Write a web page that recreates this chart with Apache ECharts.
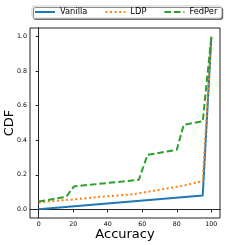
<!DOCTYPE html>
<html>
<head>
<meta charset="utf-8">
<script src="https://cdn.jsdelivr.net/npm/echarts@6/dist/echarts.min.js"></script>
<style>html,body{margin:0;padding:0;background:#fff;}#c{width:245px;height:245px;}</style>
</head>
<body>
<div id="c"></div>
<script>
const seriesNames = ['Vanilla', 'LDP', 'FedPer'];
const vanillaX = [0, 95, 100];
const vanillaY = [0.0, 0.08, 1.0];
const ldpX = [0, 10, 20, 35, 55, 74, 85, 95, 100];
const ldpY = [0.04, 0.05, 0.057, 0.072, 0.088, 0.12, 0.14, 0.163, 1.0];
const fedperX = [0, 16, 20.5, 58, 63, 80, 84, 95, 100];
const fedperY = [0.045, 0.073, 0.133, 0.171, 0.315, 0.345, 0.49, 0.51, 1.0];
const xTicks = [0, 20, 40, 60, 80, 100];
const yTicks = [0, 0.2, 0.4, 0.6, 0.8, 1.0];

const pairs = (xs, ys) => xs.map((x, i) => [x, ys[i]]);
const font = 'DejaVu Sans';
const chart = echarts.init(document.getElementById('c'), null, {renderer: 'canvas'});
chart.setOption({
  animation: false,
  textStyle: {fontFamily: font},
  grid: {left: 30, right: 25, top: 28, bottom: 27, containLabel: false, outerBoundsMode: 'none',
         show: true, borderColor: '#222', borderWidth: 1},
  legend: {
    data: seriesNames, left: 32, top: 6, orient: 'horizontal',
    itemWidth: 20, itemHeight: 10, itemGap: 17,
    padding: [2, 4, 2, 2],
    textStyle: {fontFamily: font, fontSize: 8.3, color: '#000'},
    itemStyle: {opacity: 0},
    lineStyle: {width: 2},
    backgroundColor: '#fff', borderColor: '#cccccc', borderWidth: 1, borderRadius: 2,
    shadowColor: 'rgba(0,0,0,0.45)', shadowBlur: 0, shadowOffsetX: 1.5, shadowOffsetY: 1.5
  },
  xAxis: {
    type: 'value', min: -5, max: 105,
    name: 'Accuracy', nameLocation: 'middle', nameGap: 10, nameMoveOverlap: false,
    nameTextStyle: {fontFamily: font, fontSize: 13, color: '#000'},
    axisLine: {show: true, lineStyle: {color: '#222', width: 1}},
    axisTick: {show: true, inside: false, length: 3, customValues: xTicks, lineStyle: {color: '#222'}},
    axisLabel: {customValues: xTicks, fontSize: 6.3, color: '#000', margin: 3, fontFamily: font},
    splitLine: {show: false}
  },
  yAxis: {
    type: 'value', min: -0.05, max: 1.05,
    name: 'CDF', nameLocation: 'middle', nameGap: 14, nameMoveOverlap: false,
    nameTextStyle: {fontFamily: font, fontSize: 13, color: '#000'},
    axisLine: {show: true, lineStyle: {color: '#222', width: 1}},
    axisTick: {show: true, inside: false, length: 3, customValues: yTicks, lineStyle: {color: '#222'}},
    axisLabel: {customValues: yTicks, fontSize: 6.3, color: '#000', margin: 3, fontFamily: font,
                formatter: v => v.toFixed(1)},
    splitLine: {show: false}
  },
  series: [
    {name: seriesNames[0], type: 'line', data: pairs(vanillaX, vanillaY), symbol: 'none',
     lineStyle: {color: '#1f77b4', width: 2}, itemStyle: {color: '#1f77b4'}},
    {name: seriesNames[1], type: 'line', data: pairs(ldpX, ldpY), symbol: 'none',
     lineStyle: {color: '#ff7f0e', width: 2, type: [2, 2.6], cap: 'butt'}, itemStyle: {color: '#ff7f0e'}},
    {name: seriesNames[2], type: 'line', data: pairs(fedperX, fedperY), symbol: 'none',
     lineStyle: {color: '#2ca02c', width: 2, type: [6.5, 3], cap: 'butt'}, itemStyle: {color: '#2ca02c'}}
  ]
});
</script>
</body>
</html>
